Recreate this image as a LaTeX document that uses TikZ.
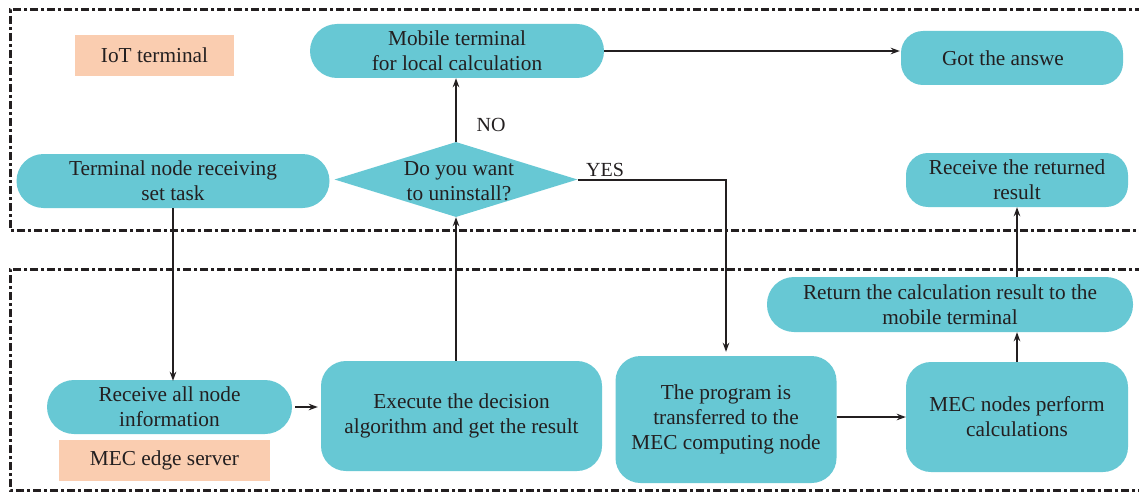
\documentclass[tikz,border=0pt]{standalone}
\usepackage{fontspec}
\setmainfont{Liberation Serif}
\usetikzlibrary{shapes.geometric,arrows.meta}
\definecolor{teal1}{RGB}{103,200,212}
\definecolor{peach}{RGB}{250,205,176}
\definecolor{ink}{RGB}{35,31,32}
\begin{document}
\begin{tikzpicture}[x=1pt,y=-1pt,
  every node/.style={font=\fontsize{21.3}{25}\selectfont, text=ink, align=center, inner sep=0pt},
  box/.style={fill=teal1, rounded corners=#1},
  box/.default=27pt,
  tag/.style={fill=peach},
  frame/.style={draw=ink, line width=3pt, dash pattern=on 8pt off 3pt on 3pt off 3pt},
  arr/.style={draw=ink, line width=2pt, -{Stealth[length=9pt,width=6.5pt]}},
  lbl/.style={font=\fontsize{20}{22}\selectfont}]
\clip (0,0) rectangle (1139,492);
\fill[white] (0,0) rectangle (1139,492);
% frames
\draw[frame] (1160,10) -- (10,10) -- (10,230) -- (1160,230);
\draw[frame] (1160,269) -- (10,269) -- (10,490) -- (1160,490);
% tags
\node[tag, minimum width=159pt, minimum height=41pt] (iot) at (154.5,55.5) {IoT terminal};
\node[tag, minimum width=211pt, minimum height=41pt] (mecs) at (164.5,460.5) {MEC edge server};
% nodes
\node[box, minimum width=294pt, minimum height=54pt] (mobile) at (457,51) {Mobile terminal\\for local calculation};
\node[box=22pt, minimum width=222pt, minimum height=54pt] (got) at (1012,58) {Got the answe\hspace*{18pt}};
\node[box, minimum width=313pt, minimum height=54pt] (term) at (173,181) {Terminal node receiving\\set task};
\node[diamond, fill=teal1, minimum width=243pt, minimum height=75pt, aspect=3.24] (dia) at (456,179.5) {};
\node at (459,181) {Do you want\\to uninstall?};
\node[box=22pt, minimum width=222pt, minimum height=54pt] (rr) at (1017,180) {Receive the returned\\result};
\node[box, minimum width=245pt, minimum height=54pt] (recv) at (169.5,407) {Receive all node\\information};
\node[box=25pt, minimum width=281pt, minimum height=110pt] (exec) at (461.5,416) {Execute the decision\\algorithm and get the result};
\node[box=25pt, minimum width=221pt, minimum height=127pt] (prog) at (726,419.5) {The program is\\transferred to the\\MEC computing node};
\node[box=25pt, minimum width=222pt, minimum height=110pt] (mec) at (1017,417) {MEC nodes perform\\calculations};
\node[box, minimum width=366pt, minimum height=55pt] (ret) at (950,304.5) {Return the calculation result to the\\mobile terminal};
% labels
\node[lbl] (no) at (491,125) {NO};
\node[lbl] (yes) at (605,170) {YES};
% connectors
\draw[arr] (term.south) -- ([yshift=-1pt]term.south |- recv.north);
\draw[arr, shorten <=3pt, shorten >=3pt] (recv.east) -- (recv.east -| exec.west);
\draw[arr] (dia.south |- exec.north) -- (dia.south);
\draw[arr] (dia.north) -- (dia.north |- mobile.south);
\draw[arr, shorten >=4pt] (dia.east) -| (prog.north);
\draw[arr, shorten >=1pt] (mobile.east) -- (mobile.east -| got.west);
\draw[arr] (prog.east |- mec.west) -- (mec.west);
\draw[arr] (mec.north) -- (mec.north |- ret.south);
\draw[arr] (rr.south |- ret.north) -- (rr.south);
\end{tikzpicture}
\end{document}
